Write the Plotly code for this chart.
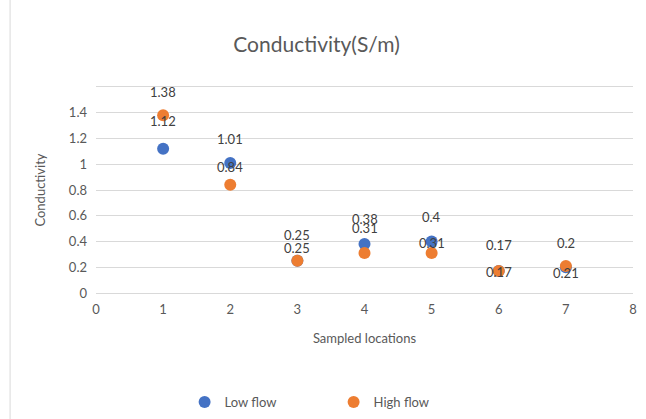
import plotly.graph_objects as go

# Sampled locations and conductivity readings (S/m)
locations = [1, 2, 3, 4, 5, 6, 7]
low_flow = [1.12, 1.01, 0.25, 0.38, 0.4, 0.17, 0.2]
high_flow = [1.38, 0.84, 0.25, 0.31, 0.31, 0.17, 0.21]

x_ticks = [0, 1, 2, 3, 4, 5, 6, 7, 8]
y_ticks = [0, 0.2, 0.4, 0.6, 0.8, 1, 1.2, 1.4, 1.6]
y_tick_text = ["0", "0.2", "0.4", "0.6", "0.8", "1", "1.2", "1.4", ""]

BLUE = "#4472C4"
ORANGE = "#ED7D31"
TEXT = "#595959"
GRID = "#D9D9D9"
FONT = "Lato"

# pixel lift of each data label above its marker
low_lift = [28, 24, 26, 25, 25, 26, 24]
high_lift = [23, 18, 13, 25, 10, -1, -7]

fig = go.Figure()
fig.add_trace(go.Scatter(x=locations, y=low_flow, mode="markers", name="Low flow",
                         marker=dict(color=BLUE, size=12)))
fig.add_trace(go.Scatter(x=locations, y=high_flow, mode="markers", name="High flow",
                         marker=dict(color=ORANGE, size=12)))

for xs, ys, lifts in ((locations, low_flow, low_lift), (locations, high_flow, high_lift)):
    for x, y, lift in zip(xs, ys, lifts):
        fig.add_annotation(x=x, y=y, text=f"{y:g}", showarrow=False, yshift=lift,
                           font=dict(family=FONT, size=13, color="#404040"))

# thin chart border on the left
fig.add_shape(type="line", xref="paper", yref="paper", x0=-0.16, x1=-0.16,
              y0=-0.62, y1=1.43, line=dict(color=GRID, width=1))

fig.update_layout(
    width=646, height=419,
    margin=dict(l=96, r=13, t=87, b=126, autoexpand=False),
    paper_bgcolor="white", plot_bgcolor="white",
    font=dict(family=FONT, color=TEXT, size=13),
    title=dict(text="Conductivity(S/m)", x=0.49, xanchor="center",
               y=1 - 45 / 419, yref="container", yanchor="middle",
               font=dict(family=FONT, size=21, color=TEXT)),
    showlegend=True,
    legend=dict(orientation="h", x=0.165, xanchor="left",
                yref="container", y=1 - 402 / 419, yanchor="middle",
                entrywidth=104, entrywidthmode="pixels",
                font=dict(family=FONT, size=13, color=TEXT)),
)
fig.update_xaxes(range=[0, 8], tickvals=x_ticks, showgrid=False, zeroline=False,
                 showline=True, linecolor=GRID, linewidth=1, mirror=True,
                 ticklabelstandoff=4,
                 tickfont=dict(family=FONT, size=13, color=TEXT),
                 title=dict(text="Sampled locations", standoff=18,
                            font=dict(family=FONT, size=13, color=TEXT)))
fig.update_yaxes(range=[0, 1.6], tickvals=y_ticks, ticktext=y_tick_text,
                 showgrid=True, gridcolor=GRID, zeroline=False, showline=False,
                 ticklabelstandoff=8,
                 tickfont=dict(family=FONT, size=13, color=TEXT),
                 title=dict(text="Conductivity", standoff=20,
                            font=dict(family=FONT, size=13, color=TEXT)))

fig.write_html("out.html")
